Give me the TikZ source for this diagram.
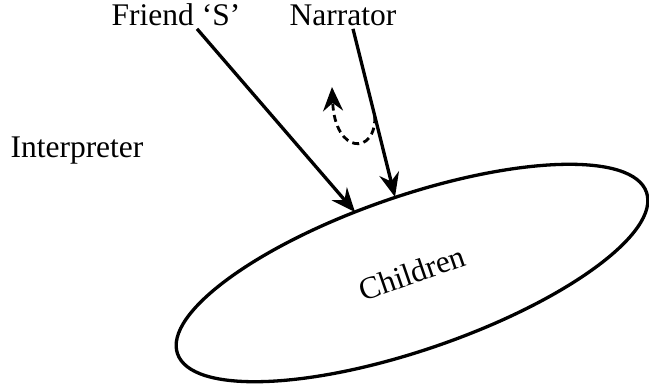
\documentclass[tikz,border=0pt]{standalone}
\usepackage{fontspec}
\setmainfont{Liberation Serif}
\usepackage{tikz}
\usetikzlibrary{arrows.meta,shapes.geometric}

\tikzset{
  lbl/.style={font=\fontsize{31.5}{37}\selectfont},
  pointer/.style={-{Stealth[length=24pt,width=20pt,inset=8pt]}, line width=3.3pt},
}

\begin{document}
\begin{tikzpicture}[x=1pt, y=-1pt]
  \useasboundingbox (0,0) rectangle (649,389);

  % the three voices
  \node[lbl, anchor=base west] (interp) at (7,157) {Interpreter};
  \node[lbl, anchor=base] (friend) at (176,25) {Friend ‘S’};
  \node[lbl, anchor=base] (narrator) at (343,25) {Narrator};

  % the audience
  \node[lbl, draw, ellipse, line width=3.3pt, rotate=19,
        minimum width=496pt, minimum height=154pt, inner sep=0pt] (children) at (412,273) {Children};

  \coordinate (fhit) at (355,212);
  \coordinate (nhit) at (395,197);

  \draw[pointer] ([xshift=21pt]friend.south) -- (fhit);
  \draw[pointer] ([xshift=10pt]narrator.south) -- (nhit) coordinate[pos=0.52] (turn);

  % feedback loop
  \draw[pointer, line width=2.8pt, dash pattern=on 7pt off 4.5pt]
       (turn) .. controls (376,155) and (335,155) .. (332,87);
\end{tikzpicture}
\end{document}
